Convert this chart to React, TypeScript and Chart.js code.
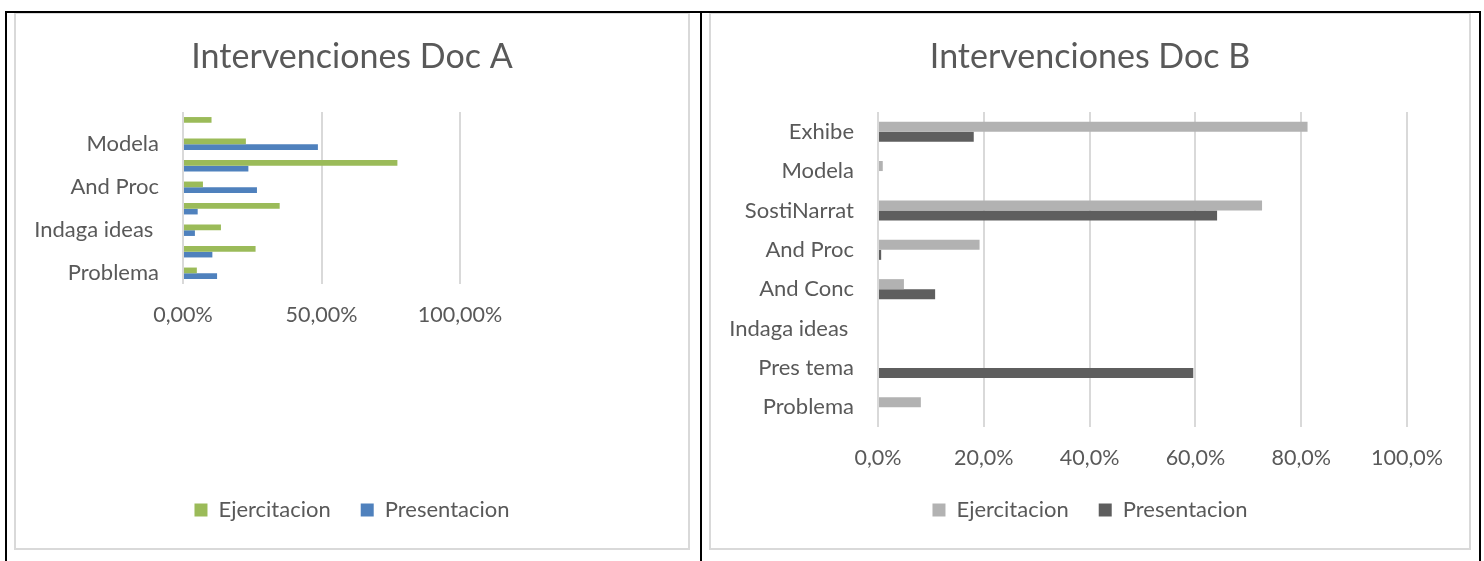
import React, { useEffect, useRef } from 'react';
import { Chart, registerables } from 'chart.js';

Chart.register(...registerables);

// ---- data ----
const categories = ['Problema', 'Pres tema', 'Indaga ideas ', 'And Conc', 'And Proc', 'SostiNarrat', 'Modela', 'Exhibe'];
const seriesNames = ['Ejercitacion', 'Presentacion'];

const titleA = 'Intervenciones Doc A';
const ejercA = [5.0, 26.2, 13.7, 34.9, 7.2, 77.4, 22.7, 10.3];
const presA = [12.3, 10.6, 4.3, 5.3, 26.7, 23.6, 48.7, 0];
const ticksA = [0, 50, 100];

const titleB = 'Intervenciones Doc B';
const ejercB = [8.1, 0, 0, 4.9, 19.2, 72.6, 0.9, 81.2];
const presB = [0, 59.6, 0, 10.8, 0.6, 64.1, 0, 18.1];
const ticksB = [0, 20, 40, 60, 80, 100];

// ---- styles ----
const FONT = 'Lato';
const TEXT = '#595959';
const GRID = '#D9D9D9';

type PanelProps = {
  title: string;
  ejer: number[];
  pres: number[];
  ticks: number[];
  decimals: number;
  colors: string[];
  width: number;
  height: number;
  rightWidth: number;
  xAxisHeight: number;
  skipOdd: boolean;
  catPct: number;
};

function BarPanel(p: PanelProps) {
  const ref = useRef<HTMLCanvasElement>(null);
  useEffect(() => {
    if (!ref.current) return;
    const chart = new Chart(ref.current, {
      type: 'bar',
      data: {
        labels: categories,
        datasets: [
          { label: seriesNames[0], data: p.ejer, backgroundColor: p.colors[0], borderWidth: 0, xAxisID: 'x', yAxisID: 'y' },
          { label: seriesNames[1], data: p.pres, backgroundColor: p.colors[1], borderWidth: 0, xAxisID: 'x', yAxisID: 'y' },
        ],
      },
      options: {
        indexAxis: 'y',
        responsive: false,
        animation: false,
        events: [],
        devicePixelRatio: 1,
        datasets: { bar: { categoryPercentage: p.catPct, barPercentage: 1 } },
        layout: { padding: { top: 0, bottom: 17, left: 0, right: 0 } },
        plugins: {
          title: {
            display: true,
            text: p.title,
            color: TEXT,
            font: { family: FONT, size: 34, weight: 'normal' },
            padding: { top: 22.6, bottom: 34.6 },
          },
          legend: {
            display: true,
            position: 'bottom',
            labels: {
              color: TEXT,
              font: { family: FONT, size: 22 },
              boxWidth: 13,
              boxHeight: 13,
              padding: 30,
            },
          },
          tooltip: { enabled: false },
        },
        scales: {
          x: {
            type: 'linear',
            position: 'bottom',
            min: 0,
            max: 100,
            grid: { color: GRID, lineWidth: 2, drawTicks: true, tickLength: 18, tickColor: 'rgba(0,0,0,0)' },
            border: { display: false },
            ticks: {
              padding: 0,
              color: TEXT,
              font: { family: FONT, size: 21.5 },
              callback: (v: any) => Number(v).toFixed(p.decimals).replace('.', ',') + '%',
            },
            afterBuildTicks: (s: any) => {
              s.ticks = p.ticks.map((v) => ({ value: v }));
            },
            afterFit: (s: any) => {
              s.height = p.xAxisHeight;
            },
          },
          y: {
            type: 'category',
            position: 'left',
            reverse: true,
            grid: { display: false, drawTicks: false },
            border: { display: false },
            ticks: {
              padding: 24,
              autoSkip: false,
              color: TEXT,
              font: { family: FONT, size: 22 },
              callback: (v: any, i: number) => (p.skipOdd && i % 2 === 1 ? '' : categories[i]),
            },
            afterFit: (s: any) => {
              s.width = 167;
            },
          },
          yRight: {
            type: 'linear',
            position: 'right',
            display: true,
            grid: { display: false, drawTicks: false },
            border: { display: false },
            ticks: { display: false },
            afterFit: (s: any) => {
              s.width = p.rightWidth;
            },
          },
        },
      } as any,
    });
    return () => chart.destroy();
  }, []);
  return <canvas ref={ref} width={p.width} height={p.height} style={{ display: 'block', width: p.width, height: p.height }} />;
}

const abs = (l: number, t: number, w: number, h: number, extra: React.CSSProperties = {}): React.CSSProperties => ({
  position: 'absolute',
  left: l,
  top: t,
  width: w,
  height: h,
  boxSizing: 'border-box',
  ...extra,
});

export default function App() {
  return (
    <div style={abs(0, 0, 1484, 561, { background: '#fff', overflow: 'hidden' })}>
      {/* chart frames */}
      <div style={abs(14, 12, 676, 538, { border: `2px solid ${GRID}` })}>
        <BarPanel
          title={titleA}
          ejer={ejercA}
          pres={presA}
          ticks={ticksA}
          decimals={2}
          colors={['#9BBB59', '#4F81BD']}
          width={672}
          height={534}
          rightWidth={228}
          xAxisHeight={185}
          skipOdd={true}
          catPct={0.53}
        />
      </div>
      <div style={abs(709, 12, 762, 538, { border: `2px solid ${GRID}` })}>
        <BarPanel
          title={titleB}
          ejer={ejercB}
          pres={presB}
          ticks={ticksB}
          decimals={1}
          colors={['#B2B2B2', '#5E5E5E']}
          width={758}
          height={534}
          rightWidth={62}
          xAxisHeight={42}
          skipOdd={false}
          catPct={0.51}
        />
      </div>
      {/* table borders */}
      <div style={abs(5, 11, 1476, 2, { background: '#000' })} />
      <div style={abs(5, 11, 2, 550, { background: '#000' })} />
      <div style={abs(700, 11, 2, 550, { background: '#000' })} />
      <div style={abs(1479, 11, 2, 550, { background: '#000' })} />
    </div>
  );
}
